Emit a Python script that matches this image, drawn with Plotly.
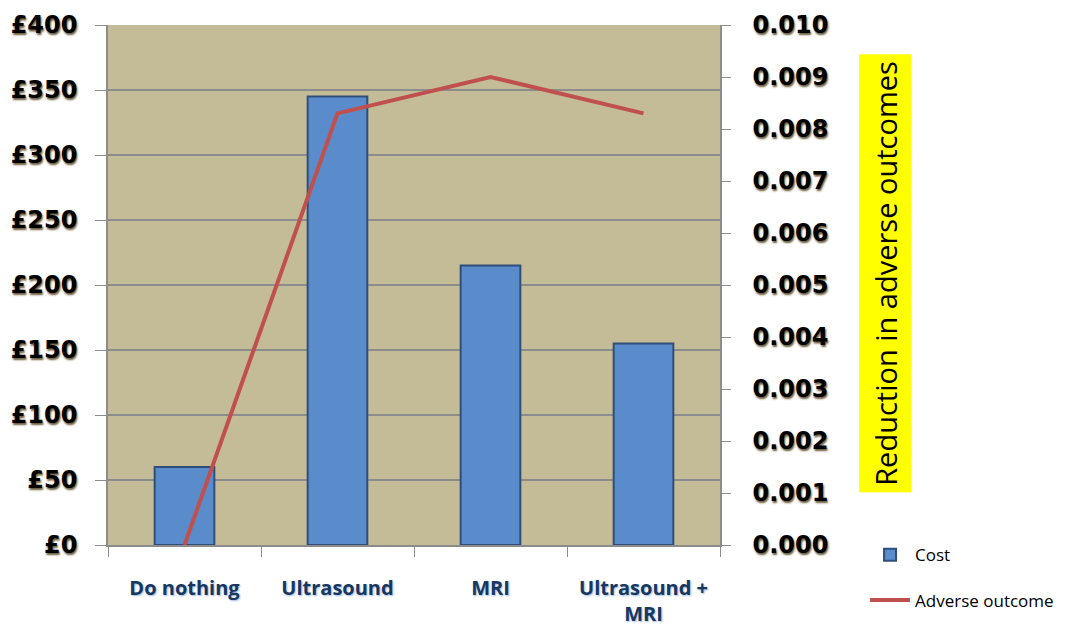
"""Cost vs reduction in adverse outcomes - combo bar/line chart."""
import plotly.graph_objects as go

categories = ["Do nothing", "Ultrasound", "MRI", "Ultrasound +<br>MRI"]
cost = [60, 345, 215, 155]
adverse_reduction = [0.0, 0.0083, 0.0090, 0.0083]

cost_ticks = [0, 50, 100, 150, 200, 250, 300, 350, 400]
cost_tick_labels = ["£0", "£50", "£100", "£150", "£200", "£250", "£300", "£350", "£400"]
adverse_ticks = [0.000, 0.001, 0.002, 0.003, 0.004, 0.005, 0.006, 0.007, 0.008, 0.009, 0.010]

tick_font = dict(family="DejaVu Sans, Arial, sans-serif", size=24, color='#000000',
                 weight='bold', shadow="1px 2px 2px #6b5a3a")

fig = go.Figure()

fig.add_trace(go.Bar(
    x=categories,
    y=cost,
    name='Cost',
    width=0.39,
    marker=dict(color='#5A8BCB', line=dict(color='#2F4F7A', width=2)),
    legend='legend',
))

fig.add_trace(go.Scatter(
    x=categories,
    y=adverse_reduction,
    mode='lines',
    name='Adverse outcome',
    line=dict(color='#C0504D', width=4),
    yaxis='y2',
    legend='legend2',
))

# Right axis title in a yellow box
fig.add_annotation(
    text="Reduction in adverse outcomes",
    xref='paper', yref='paper',
    x=1.27, y=0.522,
    xanchor='center', yanchor='middle',
    textangle=-90,
    showarrow=False,
    bgcolor='#FFFF00',
    borderpad=6,
    font=dict(family="Open Sans, Arial, sans-serif", size=29, color='#000000'),
)

# page body adds 8px offset, so margins are shifted to land the plot at 108..720 x 25..545
fig.update_layout(
    width=1082,
    height=630,
    paper_bgcolor='#FFFFFF',
    plot_bgcolor='#C4BC96',
    margin=dict(l=100, r=370, t=17, b=93, autoexpand=False),
    bargap=0.6,
    showlegend=True,
    legend=dict(x=1.237, y=0.015, xanchor='left', yanchor='top', itemwidth=40,
                font=dict(family="Open Sans, Arial, sans-serif", size=17, color='#000000'),
                bgcolor='rgba(0,0,0,0)'),
    legend2=dict(x=1.237, y=-0.072, xanchor='left', yanchor='top', itemwidth=40,
                 font=dict(family="Open Sans, Arial, sans-serif", size=17, color='#000000'),
                 bgcolor='rgba(0,0,0,0)'),
    xaxis=dict(
        type='category',
        tickson='boundaries',
        ticks='outside',
        ticklen=10,
        tickcolor='#8C8C8C',
        showgrid=False,
        showline=True,
        linecolor='#8C8C8C',
        linewidth=1.5,
        automargin=False,
        ticklabelstandoff=24,
        tickfont=dict(family="Open Sans, Arial, sans-serif", size=20, color='#17375E',
                      weight='bold', shadow="1px 1px 2px #9db8dc"),
    ),
    yaxis=dict(
        range=[0, 400],
        tickvals=cost_ticks,
        ticktext=cost_tick_labels,
        ticks='outside',
        ticklen=11,
        tickcolor='#8C8C8C',
        showgrid=True,
        gridcolor='#8C8C8C',
        gridwidth=1.5,
        showline=True,
        linecolor='#8C8C8C',
        linewidth=1.5,
        zeroline=False,
        automargin=False,
        ticklabeloverflow='allow',
        ticklabelstandoff=13,
        tickfont=tick_font,
    ),
    yaxis2=dict(
        range=[0, 0.010],
        tickvals=adverse_ticks,
        tickformat='.3f',
        overlaying='y',
        side='right',
        ticks='outside',
        ticklen=9,
        tickcolor='#8C8C8C',
        showgrid=False,
        showline=True,
        linecolor='#8C8C8C',
        linewidth=1.5,
        zeroline=False,
        automargin=False,
        ticklabeloverflow='allow',
        ticklabelstandoff=17,
        tickfont=tick_font,
    ),
)

fig.write_html("out.html")
